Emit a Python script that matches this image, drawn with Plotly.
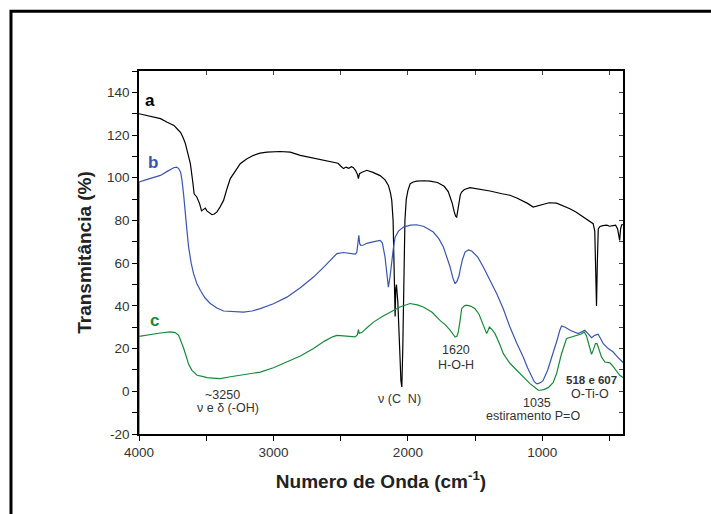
import plotly.graph_objects as go

# ---- data (wavenumber cm^-1, transmittance %) ----
a_x = [4000, 3950, 3900, 3840, 3790, 3740, 3710, 3690, 3670, 3655, 3635, 3618, 3600, 3590, 3570, 3550,
       3535, 3520, 3507, 3495, 3482, 3470, 3457, 3440, 3420, 3400, 3371, 3345, 3321, 3290, 3247, 3200,
       3148, 3100, 3048, 2950, 2875, 2800, 2720, 2652, 2590, 2540, 2520, 2500, 2479, 2460, 2440, 2420,
       2405, 2390, 2375, 2368, 2360, 2345, 2306, 2260, 2207, 2170, 2145, 2130, 2120, 2110, 2100, 2095,
       2090, 2085, 2075, 2065, 2058, 2052, 2045, 2038, 2030, 2022, 2012, 2000, 1983, 1960, 1934, 1880,
       1835, 1780, 1730, 1700, 1686, 1670, 1655, 1645, 1637, 1630, 1620, 1610, 1600, 1580, 1538, 1480,
       1389, 1300, 1241, 1190, 1154, 1110, 1068, 1040, 1010, 994, 950, 894, 850, 795, 750, 696, 650,
       622, 610, 603, 597, 591, 584, 571, 550, 520, 500, 473, 455, 440, 432, 425, 418, 410, 400]
a_y = [130, 129.2, 128.3, 127.7, 126, 124.5, 122.5, 121.2, 118.5, 116, 111, 106.6, 98, 92.5, 91, 88,
       84.5, 85, 85.8, 84.5, 84, 83.2, 82.7, 83, 84, 86, 89.4, 95, 99.6, 102.5, 106.6, 108.8,
       110.5, 111.5, 112, 112.3, 112, 110.5, 109.5, 108.5, 108, 107.4, 106.8, 105.5, 104.3, 105, 104.4, 105.2,
       104.7, 103.5, 101.5, 99.6, 101.9, 102.5, 103.5, 102.5, 101, 99, 96.4, 93, 89.4, 80, 55, 35,
       48, 50, 42, 30, 15, 5, 2, 20, 55, 80, 90, 94, 97.2, 98, 98.4, 98.6,
       98.4, 97.8, 96, 93.5, 91, 88, 84, 82, 81.6, 84, 89, 92, 93.3, 94.5, 95.4, 94.8,
       93.8, 92.5, 91.8, 90.5, 89.4, 88, 86.3, 86.8, 87.5, 87.5, 88.3, 88.1, 87, 85.5, 84, 81.6, 79.5,
       78.5, 75, 60, 40, 60, 76, 77.2, 77.6, 77.8, 77.3, 77.6, 77.8, 76, 72, 70.7, 76, 78, 78]

b_x = [4000, 4000, 3950, 3900, 3841, 3790, 3742, 3720, 3705, 3690, 3680, 3668, 3655, 3643, 3631, 3612,
       3594, 3570, 3544, 3510, 3470, 3420, 3371, 3300, 3222, 3160, 3098, 3000, 2900, 2800, 2702, 2620,
       2560, 2528, 2480, 2429, 2392, 2380, 2370, 2365, 2358, 2350, 2330, 2306, 2260, 2207, 2190, 2170,
       2158, 2145, 2132, 2120, 2108, 2095, 2070, 2033, 1980, 1934, 1880, 1811, 1770, 1736, 1710, 1686,
       1665, 1649, 1635, 1620, 1612, 1595, 1575, 1550, 1525, 1480, 1439, 1390, 1339, 1290, 1241, 1190,
       1142, 1110, 1080, 1060, 1043, 1030, 1010, 994, 960, 919, 890, 870, 857, 830, 790, 733, 684, 660,
       634, 610, 585, 565, 547, 510, 473, 440, 418, 400]
b_y = [-25, 98, 99, 100, 101.1, 103, 104.7, 105, 104.3, 102.5, 98.8, 92, 84.7, 75, 67.6, 60,
       55.1, 50.5, 47.3, 43.8, 41.1, 39, 37.6, 37.3, 37.1, 37.6, 38.7, 41, 44.1, 48.5, 53.5, 58.5,
       62.5, 64.5, 65, 64.5, 64.2, 65, 70, 73, 69, 68.3, 68.5, 69.3, 70, 70.7, 69.5, 62.9,
       56, 48.8, 54, 61.3, 67, 72.2, 75, 76.9, 77.8, 78, 77.2, 74.6, 71.5, 67.6, 63, 58.2,
       53, 50.4, 51.5, 54, 56.6, 61.5, 65.2, 66.2, 65.7, 62.8, 58.2, 52, 45.7, 38.5, 30.1, 22.5,
       16.1, 11, 6.7, 4.5, 3.6, 3.6, 4.2, 5.1, 10, 17.6, 24, 28.6, 30.6, 30, 28.5, 27, 28.6, 27,
       25.1, 26.2, 26.7, 24.5, 22.3, 20, 18.4, 16, 14.5, 13.5]

c_x = [4000, 3900, 3841, 3767, 3730, 3705, 3690, 3670, 3655, 3630, 3606, 3580, 3568, 3530, 3494, 3450,
       3395, 3320, 3247, 3170, 3098, 3000, 2900, 2800, 2702, 2620, 2560, 2528, 2480, 2429, 2392, 2375,
       2368, 2362, 2343, 2300, 2256, 2190, 2132, 2060, 1984, 1930, 1885, 1820, 1761, 1720, 1686, 1665,
       1649, 1635, 1625, 1612, 1600, 1580, 1563, 1530, 1501, 1470, 1451, 1430, 1414, 1404, 1394, 1375,
       1352, 1320, 1290, 1240, 1191, 1140, 1092, 1050, 1030, 1018, 990, 956, 920, 894, 860, 820, 780,
       745, 710, 689, 672, 659, 645, 634, 620, 605, 593, 585, 573, 560, 535, 515, 498, 481, 450, 424, 400]
c_y = [25.7, 26.8, 27.3, 27.8, 27.5, 26.2, 24, 20.5, 17.6, 12.5, 9.8, 8, 7.5, 7, 6.4, 6.2,
       5.9, 6.8, 7.5, 8.1, 9, 11, 13.7, 16.5, 20, 23.5, 25.5, 26.2, 26, 25.7, 25.5, 26.5,
       28.9, 27.2, 27.5, 30, 32.4, 35, 37.1, 39.5, 41.1, 40.5, 39.5, 37, 33.2, 31, 28.6, 26.5,
       25.4, 25.8, 27.8, 33, 38.7, 40, 40.3, 39.8, 38.7, 36, 33.2, 29.5, 27, 28.5, 30.1, 29,
       27, 22.5, 17.6, 13, 9.8, 6.5, 3.6, 1.5, 0.5, 0.5, 0.8, 1.7, 4, 8.3, 17, 24.7, 25.5,
       26.2, 26.8, 27.8, 26, 23.1, 20, 17.3, 19.5, 22.3, 22.3, 21, 19, 16.1, 13.7, 13.5, 13.3, 12.2, 9.5, 7.5, 6.5]

x_ticks = [4000, 3000, 2000, 1000]
y_ticks = [-20, 0, 20, 40, 60, 80, 100, 120, 140]

BLUE = "#3a55ad"
GREEN = "#178a3a"
TXT = "#333333"
FONT = "Liberation Sans, Arial, sans-serif"

fig = go.Figure()
fig.add_trace(go.Scatter(x=a_x, y=a_y, mode="lines", line=dict(color="black", width=1.2), showlegend=False))
fig.add_trace(go.Scatter(x=b_x, y=b_y, mode="lines", line=dict(color=BLUE, width=1.2), showlegend=False))
fig.add_trace(go.Scatter(x=c_x, y=c_y, mode="lines", line=dict(color=GREEN, width=1.2), showlegend=False))
# dummy trace to activate mirror axes with inward ticks
fig.add_trace(go.Scatter(x=[None], y=[None], xaxis="x2", yaxis="y2", showlegend=False, hoverinfo="skip"))

axis_common = dict(showgrid=False, zeroline=False, showline=True, linecolor="black", linewidth=1.5,
                   ticks="outside", ticklen=5, tickwidth=1, tickcolor="black",
                   tickfont=dict(family=FONT, size=13.5, color=TXT))

fig.update_layout(
    width=711, height=514,
    margin=dict(l=139, r=88, t=71, b=80),
    paper_bgcolor="white", plot_bgcolor="white",
    xaxis=dict(range=[4000, 400], tickvals=x_ticks, ticktext=[str(v) for v in x_ticks],
               minor=dict(dtick=500, tick0=0, ticklen=5, tickcolor="black", ticks="outside"),
               title=dict(text="<b>Numero de Onda (cm<sup>-1</sup>)</b>",
                          font=dict(family=FONT, size=19, color="#222"), standoff=16),
               layer="below traces", **axis_common),
    yaxis=dict(range=[-20, 150], tickvals=y_ticks, ticktext=[str(v) for v in y_ticks],
               minor=dict(dtick=10, tick0=0, ticklen=5, tickcolor="black", ticks="outside"),
               title=dict(text="<b>Transmitância (%)</b>",
                          font=dict(family=FONT, size=19, color="#222"), standoff=10),
               layer="below traces", **axis_common),
    xaxis2=dict(overlaying="x", side="top", matches="x", range=[4000, 400], showgrid=False, zeroline=False,
                showline=True, linecolor="black", linewidth=1.5, ticks="inside", ticklen=4,
                tickvals=[4000, 3500, 3000, 2500, 2000, 1500, 1000, 500], showticklabels=False),
    yaxis2=dict(overlaying="y", side="right", anchor="x2", range=[-20, 150], showgrid=False, zeroline=False,
                showline=True, linecolor="black", linewidth=1.5, ticks="inside", ticklen=4,
                tickvals=list(range(-20, 151, 10)), showticklabels=False),
)

# outer frame (cropped at right and bottom)
fig.add_shape(type="rect", xref="paper", yref="paper", x0=-0.2645, y0=-1.0, x1=2.0, y1=1.1643,
              line=dict(color="black", width=3), fillcolor="rgba(0,0,0,0)", layer="above")

ann = [
    (3915, 136, "<b>a</b>", "black", 17),
    (3895, 107, "<b>b</b>", BLUE, 17),
    (3885, 33, "<b>c</b>", GREEN, 17),
    (3380, -1.5, "~3250", TXT, 12.5),
    (3335, -7.8, "ν e δ (-OH)", TXT, 12.5),
    (2063, -3.8, "ν (C  N)", TXT, 12.5),
    (1640, 19.5, "1620", TXT, 12.5),
    (1640, 12.5, "H-O-H", TXT, 12.5),
    (1040, -5.5, "1035", TXT, 12.5),
    (1070, -11.6, "estiramento P=O", TXT, 12.5),
    (633, 5.2, "<b>518 e 607</b>", TXT, 11.5),
    (645, -1.3, "O-Ti-O", TXT, 12.5),
]
for x, y, t, col, sz in ann:
    fig.add_annotation(x=x, y=y, text=t, showarrow=False, xref="x", yref="y",
                       font=dict(family=FONT, size=sz, color=col))

fig.write_html("out.html")
